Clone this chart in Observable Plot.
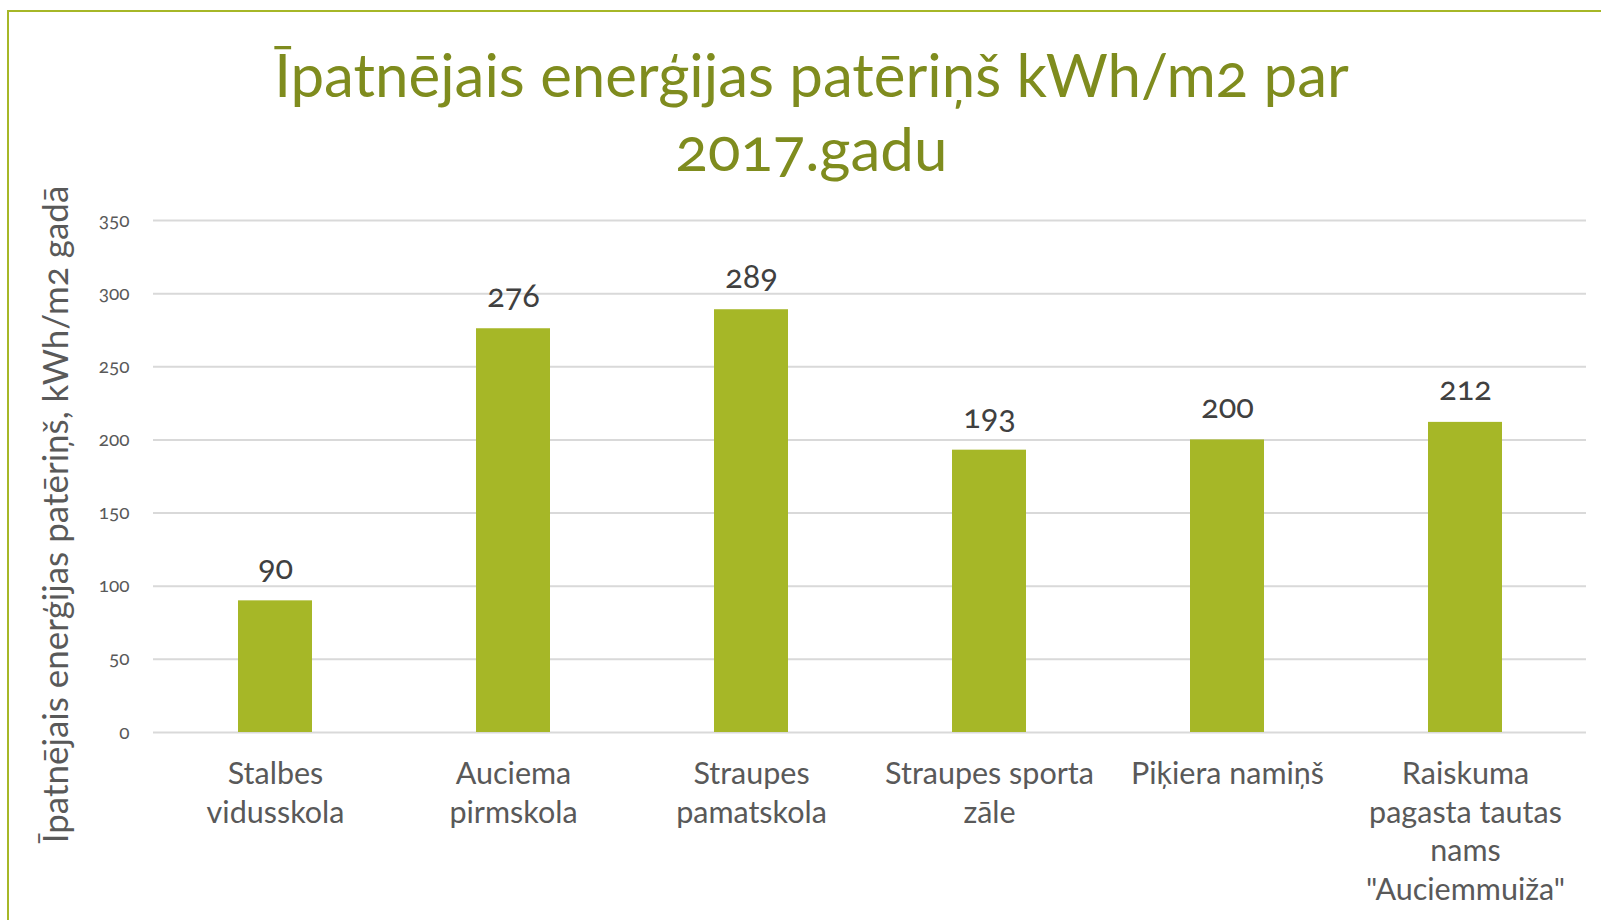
<!DOCTYPE html>
<html>
<head>
<meta charset="utf-8">
<script src="https://cdn.jsdelivr.net/npm/d3@7"></script>
<script src="https://cdn.jsdelivr.net/npm/@observablehq/plot@0.6"></script>
<style>
  html, body { margin: 0; padding: 0; background: #ffffff; }
  #wrap { position: relative; width: 1601px; height: 920px; overflow: hidden; font-family: Lato, "Open Sans", sans-serif; }
  #frame { position: absolute; left: 7px; top: 10px; width: 1700px; height: 1000px; border-left: 2px solid #a6b727; border-top: 2px solid #a6b727; }
  #title { position: absolute; left: 22px; width: 1579px; top: 37px; text-align: center; color: #7f8c1e; font-size: 60px; line-height: 74px; font-variant-numeric: oldstyle-nums; font-feature-settings: "onum" 1; }
  #chart { position: absolute; left: 0; top: 195px; }
</style>
</head>
<body>
<div id="wrap">
  <div id="frame"></div>
  <div id="title">Īpatnējais enerģijas patēriņš kWh/m2 par<br>2017.gadu</div>
  <div id="chart"></div>
</div>
<script>
const categories = [
  "Stalbes vidusskola",
  "Auciema pirmskola",
  "Straupes pamatskola",
  "Straupes sporta zāle",
  "Piķiera namiņš",
  "Raiskuma pagasta tautas nams \"Auciemmuiža\""
];
const values = [90, 276, 289, 193, 200, 212];
const categoryLabels = [
  "Stalbes\nvidusskola",
  "Auciema\npirmskola",
  "Straupes\npamatskola",
  "Straupes sporta\nzāle",
  "Piķiera namiņš",
  "Raiskuma\npagasta tautas\nnams\n\"Auciemmuiža\""
];
const yTicks = [0, 50, 100, 150, 200, 250, 300, 350];
const yLabel = "Īpatnējais enerģijas patēriņš, kWh/m2 gadā";

const data = categories.map((c, i) => ({name: c, value: values[i]}));
const labelOf = new Map(categories.map((c, i) => [c, categoryLabels[i]]));

const chart = Plot.plot({
  width: 1601,
  height: 725,
  marginLeft: 153,
  marginRight: 15,
  marginTop: 25,
  marginBottom: 188,
  style: {fontFamily: "Lato, 'Open Sans', sans-serif", fontVariantNumeric: "oldstyle-nums", fontFeatureSettings: "'onum' 1", background: "transparent", overflow: "visible"},
  x: {domain: categories, paddingInner: 0.69, paddingOuter: 0.345, label: null},
  y: {domain: [0, 350], label: null},
  marks: [
    Plot.gridY(yTicks, {stroke: "#d9d9d9", strokeOpacity: 1, strokeWidth: 2}),
    Plot.axisY(yTicks, {tickSize: 0, tickPadding: 24, fontSize: 19, fill: "#595959", label: null}),
    Plot.axisX({tickSize: 0, tickPadding: 24, fontSize: 30.5, fill: "#595959", lineHeight: 1.27, tickFormat: d => labelOf.get(d), label: null}),
    Plot.barY(data, {x: "name", y: "value", fill: "#a6b727"}),
    Plot.text(data, {x: "name", y: "value", text: d => String(d.value), dy: -22, lineAnchor: "bottom", fontSize: 32.5, fill: "#404040"}),
    Plot.text([yLabel], {frameAnchor: "left", text: d => d, rotate: -90, dx: -97, dy: 38, lineAnchor: "middle", textAnchor: "middle", fontSize: 35, fill: "#595959"})
  ]
});
document.getElementById("chart").appendChild(chart);
</script>
</body>
</html>
